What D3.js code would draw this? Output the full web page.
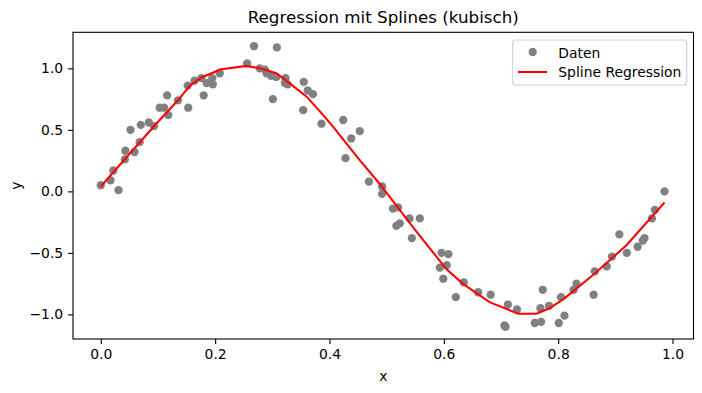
<!DOCTYPE html>
<html>
<head>
<meta charset="utf-8">
<script src="https://cdn.jsdelivr.net/npm/d3@7"></script>
<style>
  body { margin: 0; background: #fff; }
  svg { font-family: "DejaVu Sans", sans-serif; }
</style>
</head>
<body>
<div id="chart"></div>
<script>
// scatter data
const dataX = [0.000, 0.017, 0.022, 0.031, 0.042, 0.043, 0.052, 0.059, 0.068, 0.070,
  0.084, 0.093, 0.103, 0.111, 0.116, 0.118, 0.135, 0.152, 0.153, 0.164,
  0.176, 0.180, 0.185, 0.195, 0.196, 0.208, 0.256, 0.268, 0.278, 0.287,
  0.290, 0.298, 0.301, 0.307, 0.308, 0.322, 0.323, 0.327, 0.354, 0.355,
  0.362, 0.371, 0.386, 0.424, 0.428, 0.438, 0.453, 0.469, 0.492, 0.492,
  0.511, 0.520, 0.517, 0.523, 0.540, 0.544, 0.558, 0.593, 0.596, 0.599,
  0.605, 0.608, 0.621, 0.635, 0.660, 0.682, 0.706, 0.708, 0.712, 0.728,
  0.759, 0.769, 0.770, 0.773, 0.784, 0.801, 0.805, 0.811, 0.827, 0.832,
  0.862, 0.864, 0.885, 0.894, 0.907, 0.920, 0.939, 0.948, 0.951, 0.964,
  0.969, 0.986];
const dataY = [0.05, 0.09, 0.17, 0.01, 0.26, 0.33, 0.50, 0.32, 0.40, 0.54,
  0.56, 0.53, 0.68, 0.68, 0.78, 0.62, 0.74, 0.86, 0.68, 0.90,
  0.92, 0.78, 0.88, 0.92, 0.87, 0.96, 1.04, 1.18, 1.00, 0.99,
  0.96, 0.94, 0.75, 0.93, 1.17, 0.88, 0.92, 0.87, 0.66, 0.89,
  0.82, 0.79, 0.55, 0.58, 0.27, 0.43, 0.49, 0.08, 0.04, -0.02,
  -0.14, -0.13, -0.28, -0.26, -0.22, -0.38, -0.22, -0.62, -0.50, -0.71,
  -0.60, -0.51, -0.86, -0.74, -0.82, -0.84, -1.09, -1.10, -0.92, -0.96,
  -1.07, -0.95, -1.06, -0.80, -0.93, -1.07, -0.86, -1.01, -0.80, -0.75,
  -0.84, -0.65, -0.61, -0.53, -0.35, -0.50, -0.45, -0.40, -0.38, -0.22,
  -0.15, 0.00];

// fitted spline curve
const curveX = [0.000, 0.059, 0.097, 0.135, 0.156, 0.178, 0.199, 0.208, 0.255, 0.278,
  0.307, 0.330, 0.360, 0.389, 0.409, 0.450, 0.488, 0.546, 0.604, 0.633,
  0.680, 0.730, 0.762, 0.785, 0.811, 0.861, 0.919, 0.986];
const curveY = [0.04, 0.35, 0.55, 0.74, 0.86, 0.93, 0.97, 0.99, 1.02, 1.00,
  0.96, 0.88, 0.77, 0.62, 0.51, 0.27, 0.06, -0.29, -0.63, -0.75,
  -0.90, -0.995, -0.995, -0.95, -0.87, -0.68, -0.44, -0.09];

const xTicks = [0.0, 0.2, 0.4, 0.6, 0.8, 1.0];
const yTicks = [-1.0, -0.5, 0.0, 0.5, 1.0];
const legendLabels = ["Daten", "Spline Regression"];

const width = 702, height = 393;
const margin = {left: 73, right: 8.5, top: 32.3, bottom: 54};

const svg = d3.select("#chart").append("svg")
  .attr("width", width).attr("height", height);

const x = d3.scaleLinear().domain([-0.0486, 1.0367]).range([margin.left, width - margin.right]);
const y = d3.scaleLinear().domain([-1.2, 1.293]).range([height - margin.bottom, margin.top]);

const fmt = d3.format(".1f");

// axes
const xAxis = svg.append("g")
  .attr("transform", `translate(0,${height - margin.bottom})`)
  .call(d3.axisBottom(x).tickValues(xTicks).tickFormat(fmt).tickSize(4.9).tickPadding(4.9));
const yAxis = svg.append("g")
  .attr("transform", `translate(${margin.left},0)`)
  .call(d3.axisLeft(y).tickValues(yTicks).tickFormat(fmt).tickSize(4.9).tickPadding(4.9));
[xAxis, yAxis].forEach(g => {
  g.select(".domain").remove();
  g.selectAll("text").attr("font-size", 13.9).attr("fill", "#000").attr("font-family", "DejaVu Sans");
  g.selectAll("line").attr("stroke", "#000").attr("stroke-width", 1.1);
});

// frame
svg.append("rect")
  .attr("x", margin.left).attr("y", margin.top)
  .attr("width", width - margin.right - margin.left)
  .attr("height", height - margin.bottom - margin.top)
  .attr("fill", "none").attr("stroke", "#000").attr("stroke-width", 1.1);

// points
svg.append("g").selectAll("circle")
  .data(dataX.map((d, i) => [d, dataY[i]]))
  .enter().append("circle")
  .attr("cx", d => x(d[0]))
  .attr("cy", d => y(d[1]))
  .attr("r", 4.15)
  .attr("fill", "#808080");

// spline line
const line = d3.line().x(d => x(d[0])).y(d => y(d[1]));
svg.append("path")
  .datum(curveX.map((d, i) => [d, curveY[i]]))
  .attr("d", line)
  .attr("fill", "none")
  .attr("stroke", "#ff0000")
  .attr("stroke-width", 2.08);

// title and labels
svg.append("text")
  .attr("x", (margin.left + width - margin.right) / 2).attr("y", 23)
  .attr("text-anchor", "middle").attr("font-size", 16.7)
  .text("Regression mit Splines (kubisch)");
svg.append("text")
  .attr("x", (margin.left + width - margin.right) / 2).attr("y", 381)
  .attr("text-anchor", "middle").attr("font-size", 13.9)
  .text("x");
svg.append("text")
  .attr("transform", "translate(21," + ((margin.top + height - margin.bottom) / 2) + ") rotate(-90)")
  .attr("text-anchor", "middle").attr("font-size", 13.9)
  .text("y");

// legend
const lg = svg.append("g");
lg.append("rect")
  .attr("x", 512.7).attr("y", 40).attr("width", 174).attr("height", 45)
  .attr("rx", 3).attr("fill", "#fff").attr("fill-opacity", 0.8)
  .attr("stroke", "#d0d0d0").attr("stroke-width", 1.1);
lg.append("circle").attr("cx", 532.7).attr("cy", 52).attr("r", 4.15).attr("fill", "#808080");
lg.append("line").attr("x1", 518).attr("x2", 547).attr("y1", 72).attr("y2", 72)
  .attr("stroke", "#ff0000").attr("stroke-width", 2.08);
legendLabels.forEach((t, i) => {
  lg.append("text").attr("x", 558.3).attr("y", 57.5 + i * 19.5)
    .attr("font-size", 13.9).text(t);
});
</script>
</body>
</html>
